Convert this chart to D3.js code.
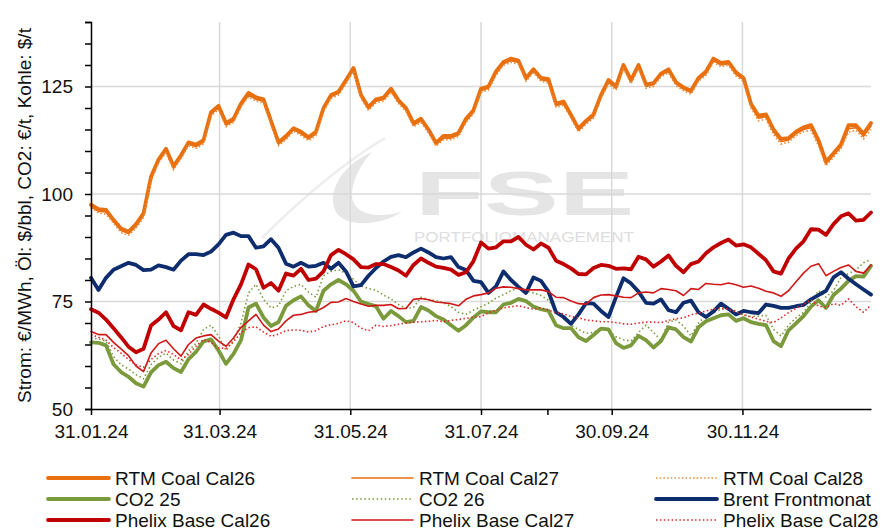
<!DOCTYPE html>
<html><head><meta charset="utf-8">
<script src="https://cdn.jsdelivr.net/npm/d3@7"></script>
<style>
body{margin:0;background:#fff}
svg{display:block}
text{font-family:"Liberation Sans",Arial,sans-serif}
</style>
</head><body>
<svg id="chart" width="882" height="530"></svg>
<script>
// ---------- DATA ----------
const startDate = "2024-01-31";
const sampleStepHours = 84;          // one sample every 3.5 days
const sampleCount = 105;
const xTickDates  = ["2024-01-31","2024-03-31","2024-05-31","2024-07-31","2024-09-30","2024-11-30"];
const xTickLabels = ["31.01.24","31.03.24","31.05.24","31.07.24","30.09.24","30.11.24"];
const xMinorTickDates = ["2024-08-31"];
const yLabelTicks = [50,75,100,125];
const yGridTicks = [75,100,125];
const yTitle = "Strom: €/MWh, Öl: $/bbl, CO2: €/t, Kohle: $/t";

const coalCal26 = [97.5,96.5,96.3,94,92,91.2,93,95.5,104,108,
 110.5,106.5,109,112,111.5,112.5,119,120.5,116.5,117.5,
 121,123.5,122.5,122,117,112,113.5,115.3,114.5,113.2,
 114.5,120,123,123.8,126.5,129.3,123,120.2,122,122.4,
 124.5,121.8,120,116.5,117.5,115,111.9,113.5,113.5,114.2,
 117.5,119.5,124.5,125,128.5,130.7,131.5,131,127,129,
 127,126.7,121,121.5,118.4,115.2,117,118.5,123,126.5,
 125,130,126.5,130,125.5,125.8,128,129,126,124.8,
 124,127,128.5,131.5,130.5,130.7,128.3,127,121,118.2,
 118.5,115,112.8,113,114.5,115.5,116,112.5,107.5,109.5,
 111.5,116,116,114,116.5];
const coalCal27 = [97,96,95.8,93.6,91.5,90.8,92.5,95,103.5,107.6,
 110,106,108.6,111.6,111,112,118.6,120,116,117,
 120.6,123,122,121.6,116.6,111.6,113,115,114,112.8,
 114,119.6,122.6,123.4,126,129,122.6,119.8,121.6,122,
 124,121.4,119.6,116,117,114.6,111.5,113,113,113.8,
 117,119,124,124.6,128,130.3,131,130.6,126.6,128.6,
 126.6,126.2,120.6,121,118,114.8,116.6,118,122.6,126,
 124.6,129.6,126,129.6,125,125.4,127.6,128.6,125.6,124.4,
 123.6,126.6,128,131,130,130.3,127.8,126.6,120.5,117.6,
 118,114.4,112.2,112.5,114,115,115.4,111.8,107,109,
 111,115.2,115.4,113.4,115.8];
const coalCal28 = [96.8,95.6,95.3,93.2,91,90.4,92,94.5,103,107.2,
 109.6,105.6,108.2,111.2,110.6,111.6,118.2,119.6,115.6,116.6,
 120.2,122.6,121.6,121.2,116.2,111.2,112.6,114.6,113.6,112.4,
 113.6,119.2,122.2,123,125.6,128.6,122.2,119.4,121.2,121.6,
 123.6,121,119.2,115.6,116.6,114.2,111.1,112.6,112.6,113.4,
 116.6,118.6,123.6,124.2,127.6,129.9,130.6,130.2,126.2,128.2,
 126.2,125.8,120.2,120.6,117.6,114.4,116.2,117.6,122.2,125.6,
 124.2,129.2,125.6,129.2,124.6,125,127.2,128.2,125.2,124,
 123.2,126.2,127.6,130.6,129.6,129.9,127.4,126.2,120,117,
 117.4,113.8,111.6,112,113.5,114.5,114.8,111.2,106.5,108.5,
 110.5,114.4,114.8,112.8,115];
const co2_25 = [65.5,65.4,64.8,60.4,58.6,57.5,56,55.2,58.5,60.2,
 61,59.5,58.6,61.6,63.3,65.7,66.2,63.6,60.5,62.8,
 66,73.6,74.5,71.3,69.3,70.2,74,75.3,76.2,74.1,
 72.8,77.5,79,80,79,77.5,75,74.4,73.9,71,
 72.8,71.6,70.2,70.5,73.7,72.9,71.6,70.8,69.5,68.2,
 69.5,71.3,72.7,72.5,72.5,74.3,74.7,75.6,75.1,73.8,
 73.2,72.8,69.5,68.8,68.8,66.7,65.8,67.2,68.7,68.5,
 65.3,64.2,64.8,67,66,64.3,65.8,69,68.5,66.7,
 65.7,69,70.4,71.1,71.8,72,70.5,71.1,70.2,69.8,
 69.5,65.8,64.6,68.3,69.9,71.6,73.8,75.3,73.5,76.5,
 78,79.8,80.9,80.8,83.3];
const co2_26 = [66.5,66.3,65.8,62.2,60.3,59.3,58,57,60.3,62,
 63,61.4,60.5,63.5,65.3,68.5,69.5,67,63.6,66,
 70,77,79,75.5,73.5,74,77.5,78.5,79,77.2,
 76,81,82,82.4,81.5,80.2,78.6,78,77.6,76.5,
 75.6,74.3,73.4,73.6,76,75.5,75.2,74.7,73.8,72.5,
 72,73,73.8,74.6,75.8,76.6,77.5,78.2,77.4,77,
 76.4,75.3,72.8,71,69.5,68.5,67.6,67.8,68.9,68.2,
 66.8,66.1,65.8,67.8,69.5,67.8,66,70.2,70.7,69.3,
 67,70,71.7,72.5,73.1,73.4,72.8,71.9,71.5,71.6,
 71.8,68.5,67,69.5,71.2,72.5,74.8,77.5,76,77.5,
 80.6,81.5,82.3,84,84.7];
const brent = [80.5,77.7,80.5,82.4,83.2,84,83.5,82.3,82.4,83.4,
 83,82.4,84.5,86,86,85.8,86.6,88.3,90.5,91,
 90.2,90.2,87.5,87.8,89.5,87.5,83.8,83.1,84,83.1,
 83.3,84,82.6,84,82,78.5,78.8,81,82.8,84.3,
 85.4,85.8,85.3,86.4,87.3,86.4,85.3,85,85.3,83,
 82.3,79.8,79.5,77,78.5,82,80,78.4,77,80.6,
 79.8,77.3,72.5,71.4,69.8,72,74.6,74.5,72.8,71.4,
 76,80.4,79.2,77.3,74.7,74.5,75.5,73,72.5,74.7,
 75.2,72.5,71.4,72.7,74.5,73.3,72,72.8,72.5,72.3,
 74.3,74,73.5,73.5,73.9,74.2,75.5,76.5,77.5,80.6,
 81.8,80.3,79,77.8,76.6];
const phelixCal26 = [73.2,72.4,70.8,68.8,66.7,64.5,63.2,64,69.4,70.8,
 72.5,69.3,68.3,72.5,71.9,74.3,73.3,72.4,71.3,75.5,
 79,83.6,82.5,78.2,79.3,77.5,81.5,81,82.6,80,
 80.3,82,85.8,87,86,84.8,83,82.9,83.7,83.7,
 83,82.2,81,83.5,85,84,83.1,82.8,82.4,81.2,
 81.8,84.4,88.7,87.3,87.6,89,89,90,88.2,87.1,
 88.5,87.5,84.5,83.7,82.7,81.4,81.3,82.8,83.5,83.3,
 82.6,82.7,82.5,85.4,84.8,83.1,84.3,85.7,83.3,81.8,
 83.7,84.3,86.2,87.6,88.6,89.4,88,88.3,87.6,86.1,
 84.6,82,81.5,85,87.3,89,91.8,91.7,90.5,93,
 94.8,95.5,93.8,94,95.7];
const phelixCal27 = [68,67.3,67.3,65.5,64,62.4,60,58.7,63,65.2,
 66,64,62.3,65,66.5,67,67.3,65.8,64.6,66.5,
 69,70.5,72,69.5,68,68.6,70.5,71.8,72,72.5,
 72.7,73.6,74.8,74.9,75.7,75,74.4,73.9,74.1,74.1,
 74.3,73.3,73.4,75.5,75.7,75.4,74.9,74.7,74.5,74,
 75.5,76.3,76.6,77,78.1,78.4,78.3,78,77.7,77.7,
 77.7,77.3,76,75.9,75.1,74.5,74.4,75.9,76.5,76.6,
 76.3,76,75.9,77,77.2,77,78,77.8,77.5,76.4,
 78,77.8,79.2,79,78.9,79.3,78.9,78.3,78.6,78.1,
 77.4,77,76.2,77.5,79.6,81.6,83.2,83.8,81,82,
 82.9,83.5,82,81.6,83.5];
const phelixCal28 = [67.3,66.7,66,64.3,63,61.5,60.3,59.7,61.5,62.9,
 63.6,62.7,61.4,62.7,64.6,66.1,65.5,64.2,64.1,65.6,
 67.8,68.9,69.1,67.9,66.9,67.4,68.2,68.4,68.3,67.9,
 68.2,69.2,69.6,69.9,70.5,70.1,68.8,68.2,69.5,69.2,
 69.4,69.7,70,70.2,70.3,70.4,70.6,70.3,70.6,70.8,
 71.1,71.3,71.5,72.4,73,73.5,73.8,74,73.6,73.2,
 73.5,73,72.4,72.1,71.5,71.2,70.7,70.5,70.3,70.3,
 70.1,69.8,69.7,70,70.2,70.2,70.1,70.6,71,71.2,
 71.9,72.3,72.8,73.2,73.5,73.2,72.6,71.9,71.4,70.9,
 70.4,70.1,71.2,72.4,73.4,74.3,75.4,73.9,73.6,74.5,
 74.1,75.6,73.8,72.5,74.2];

const seriesNames = ["RTM Coal Cal26","RTM Coal Cal27","RTM Coal Cal28",
                     "CO2 25","CO2 26","Brent Frontmonat",
                     "Phelix Base Cal26","Phelix Base Cal27","Phelix Base Cal28"];
const seriesValues = [coalCal26, coalCal27, coalCal28, co2_25, co2_26, brent, phelixCal26, phelixCal27, phelixCal28];

(function(){
// ---------- STYLES ----------
const styles = [
  {color:"#E8700F", width:3.8, dash:null},
  {color:"#E8700F", width:1.6, dash:null},
  {color:"#EE8A3A", width:1.6, dash:"1.5,2.2"},
  {color:"#7A9A3C", width:3.8, dash:null},
  {color:"#7A9A3C", width:1.6, dash:"1.5,2.6"},
  {color:"#0E2D6E", width:3.8, dash:null},
  {color:"#C00000", width:3.8, dash:null},
  {color:"#D01818", width:1.6, dash:null},
  {color:"#E02828", width:1.6, dash:"1.5,2.4"}
];

const parse = d3.utcParse("%Y-%m-%d");
const start = parse(startDate);
const dates = d3.range(sampleCount).map(k => d3.utcHour.offset(start, k * sampleStepHours));

const svg = d3.select("#chart");
const pLeft = 91, pRight = 871, pTop = 22, pBottom = 409;

const x = d3.scaleUtc().domain([start, dates[dates.length - 1]]).range([pLeft, pRight]);
const y = d3.scaleLinear().domain([50, 140]).range([pBottom, pTop]);

// ---------- WATERMARK ----------
const wm = svg.append("g");
wm.append("path")
  .attr("d","M262,238 C300,200 340,165 385,138")
  .attr("fill","none").attr("stroke","#ededed").attr("stroke-width",2.5);
wm.append("path")
  .attr("d","M372,152 C342,165 326,192 336,212 C346,228 380,226 402,212 C372,220 350,212 352,192 C354,176 362,163 372,152 Z")
  .attr("fill","#e6e6e6");
wm.append("text")
  .attr("x",415).attr("y",215)
  .attr("textLength",219).attr("lengthAdjust","spacingAndGlyphs")
  .attr("font-size",63).attr("font-weight","bold")
  .attr("fill","#e5e5e5").text("FSE");
wm.append("text")
  .attr("x",414).attr("y",242)
  .attr("textLength",220).attr("lengthAdjust","spacingAndGlyphs")
  .attr("font-size",14)
  .attr("fill","#dedede").text("PORTFOLIOMANAGEMENT");

// ---------- GRID ----------
const grid = svg.append("g").attr("stroke","#d9d9d9").attr("stroke-width",1.5);
grid.selectAll("line.h").data(yGridTicks).join("line").attr("class","h")
  .attr("x1",pLeft).attr("x2",pRight)
  .attr("y1",d=>y(d)).attr("y2",d=>y(d));
grid.selectAll("line.v").data(xTickDates.slice(1)).join("line").attr("class","v")
  .attr("x1",d=>x(parse(d))).attr("x2",d=>x(parse(d)))
  .attr("y1",pTop).attr("y2",pBottom);

// ---------- SERIES ----------
const line = d3.line().x((d,i)=>x(dates[i])).y(d=>y(d));
const lines = svg.append("g");
seriesValues.forEach((vals, s) => {
  const st = styles[s];
  lines.append("path")
    .datum(vals)
    .attr("fill","none")
    .attr("stroke",st.color)
    .attr("stroke-width",st.width)
    .attr("stroke-linejoin","round")
    .attr("stroke-linecap", st.dash ? "butt" : "round")
    .attr("stroke-dasharray", st.dash)
    .attr("d", line);
});

// ---------- AXES ----------
const yAxis = d3.axisLeft(y)
  .tickValues(d3.range(50, 141, 5))
  .tickSize(6).tickPadding(12)
  .tickFormat(d => yLabelTicks.includes(d) ? d : "");
const gy = svg.append("g").attr("transform",`translate(${pLeft},0)`).call(yAxis);
gy.select(".domain").attr("stroke","#000").attr("stroke-width",1.5);
gy.selectAll(".tick line").attr("stroke","#000").attr("stroke-width",1.5);
gy.selectAll(".tick text").attr("font-size",19).attr("fill","#111")
  .attr("font-family","Liberation Sans, Arial, sans-serif");

const allXTicks = xTickDates.concat(xMinorTickDates).map(parse);
const xAxis = d3.axisBottom(x)
  .tickValues(allXTicks)
  .tickSize(6).tickPadding(10).tickSizeOuter(0)
  .tickFormat(d => {
    const i = xTickDates.findIndex(s => +parse(s) === +d);
    return i >= 0 ? xTickLabels[i] : "";
  });
const gx = svg.append("g").attr("transform",`translate(0,${pBottom})`).call(xAxis);
gx.select(".domain").attr("stroke","#000").attr("stroke-width",1.5);
gx.selectAll(".tick line").attr("stroke","#000").attr("stroke-width",1.5);
gx.selectAll(".tick text").attr("font-size",19).attr("fill","#111")
  .attr("font-family","Liberation Sans, Arial, sans-serif");

// y-axis title
svg.append("text")
  .attr("transform",`translate(31,${(pTop+pBottom)/2}) rotate(-90)`)
  .attr("text-anchor","middle")
  .attr("font-size",19).attr("fill","#111")
  .text(yTitle);

// ---------- LEGEND ----------
const colX = [48, 352, 656];
const rowY = [478, 499, 520];
const lg = svg.append("g");
seriesNames.forEach((name, i) => {
  const c = i % 3, r = Math.floor(i / 3);
  const st = styles[i];
  lg.append("line")
    .attr("x1",colX[c]).attr("x2",colX[c]+61)
    .attr("y1",rowY[r]).attr("y2",rowY[r])
    .attr("stroke",st.color).attr("stroke-width",st.width)
    .attr("stroke-linecap", st.dash ? "butt" : "round")
    .attr("stroke-dasharray",st.dash);
  lg.append("text")
    .attr("x",colX[c]+67).attr("y",rowY[r]).attr("dy","0.35em")
    .attr("font-size",19).attr("fill","#111")
    .text(name);
});
})();
</script>
</body></html>
